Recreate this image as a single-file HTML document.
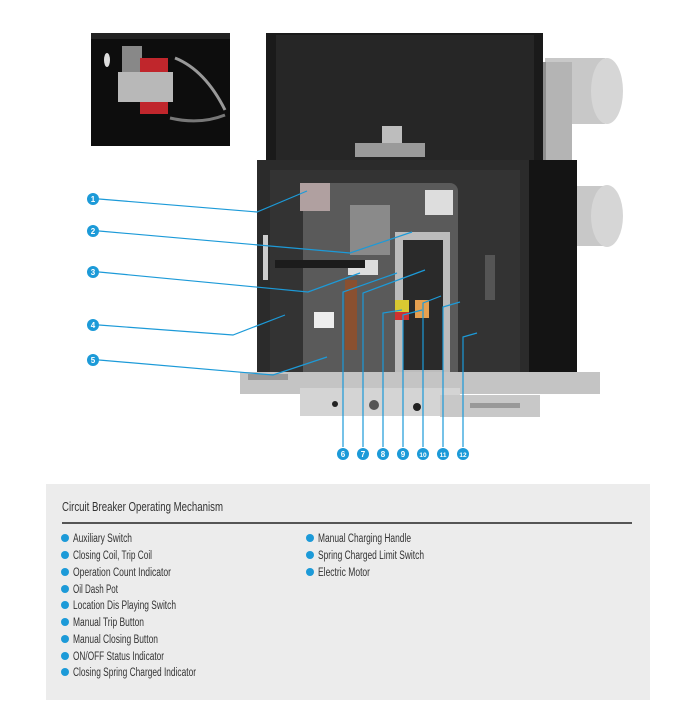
<!DOCTYPE html>
<html><head><meta charset="utf-8"><style>
body{margin:0;width:695px;height:720px;background:#fff;overflow:hidden;font-family:"Liberation Sans",sans-serif;}
svg{position:absolute;left:0;top:0}
</style></head><body>
<svg width="695" height="720" viewBox="0 0 695 720" font-family="Liberation Sans, sans-serif">
<!-- inset photo -->
<rect x="91" y="33" width="139" height="113" fill="#0d0d0d"/>
<rect x="91" y="33" width="139" height="6" fill="#222"/>
<rect x="122" y="46" width="20" height="50" fill="#888"/>
<rect x="118" y="72" width="55" height="30" fill="#b8b8b8"/>
<rect x="140" y="58" width="28" height="14" fill="#c0262c"/>
<rect x="140" y="102" width="28" height="12" fill="#c0262c"/>
<path d="M175 58 Q205 70 225 110" stroke="#999" stroke-width="3" fill="none"/>
<path d="M170 118 Q200 125 225 115" stroke="#777" stroke-width="3" fill="none"/>
<ellipse cx="107" cy="60" rx="3" ry="7" fill="#ddd"/>
<!-- cylinders -->
<rect x="545" y="58" width="60" height="66" fill="#c8c8c8"/>
<ellipse cx="607" cy="91" rx="16" ry="33" fill="#d6d6d6"/>
<rect x="545" y="186" width="60" height="60" fill="#c8c8c8"/>
<ellipse cx="607" cy="216" rx="16" ry="31" fill="#d6d6d6"/>
<rect x="540" y="62" width="32" height="285" fill="#b4b4b4"/>
<rect x="540" y="62" width="6" height="285" fill="#8e8e8e"/>
<!-- top black panel -->
<rect x="266" y="33" width="277" height="135" fill="#1a1a1a"/>
<rect x="276" y="35" width="258" height="128" fill="#262626"/>
<rect x="382" y="126" width="20" height="22" fill="#bdbdbd"/>
<rect x="355" y="143" width="70" height="14" fill="#9a9a9a"/>
<!-- right side -->
<rect x="527" y="160" width="50" height="228" fill="#141414"/>
<!-- front box -->
<rect x="257" y="160" width="272" height="228" fill="#2b2b2b"/>
<rect x="270" y="170" width="250" height="210" fill="#333"/>
<rect x="303" y="183" width="155" height="205" rx="8" fill="#5a5a5a"/>
<rect x="395" y="232" width="55" height="150" fill="#bcbcbc"/>
<rect x="403" y="240" width="40" height="130" fill="#2a2a2a"/>
<rect x="395" y="300" width="14" height="15" fill="#d8c832"/>
<rect x="395" y="312" width="14" height="8" fill="#d03030"/>
<rect x="415" y="300" width="14" height="18" fill="#e6a050"/>
<rect x="350" y="205" width="40" height="50" fill="#8a8a8a"/>
<rect x="425" y="190" width="28" height="25" fill="#ddd"/>
<rect x="348" y="260" width="30" height="15" fill="#ddd"/>
<rect x="345" y="280" width="12" height="70" fill="#8a5030"/>
<rect x="314" y="312" width="20" height="16" fill="#eee"/>
<rect x="300" y="183" width="30" height="28" fill="#b0a0a0"/>
<rect x="275" y="260" width="90" height="8" fill="#1c1c1c"/>
<rect x="263" y="235" width="5" height="45" fill="#ccc"/>
<rect x="485" y="255" width="10" height="45" fill="#555"/>
<!-- rails -->
<rect x="240" y="372" width="360" height="22" fill="#c4c4c4"/>
<rect x="300" y="388" width="160" height="28" fill="#d4d4d4"/>
<rect x="440" y="395" width="100" height="22" fill="#c8c8c8"/>
<rect x="248" y="374" width="40" height="6" fill="#999"/>
<rect x="470" y="403" width="50" height="5" fill="#999"/>
<circle cx="374" cy="405" r="5" fill="#555"/>
<circle cx="417" cy="407" r="4" fill="#222"/>
<circle cx="335" cy="404" r="3" fill="#222"/>
<!-- callouts -->
<g stroke="#1c9ad8" stroke-width="1.2" fill="none">
<polyline points="99,199 257,212 307,191"/>
<polyline points="99,231 350,253 412,232"/>
<polyline points="99,272 308,292 360,273"/>
<polyline points="99,325 233,335 285,315"/>
<polyline points="99,360 273,375 327,357"/>
<polyline points="343,447 343,292 397,273"/>
<polyline points="363,447 363,293 425,270"/>
<polyline points="383,447 383,313 402,310"/>
<polyline points="403,447 403,315 422,310"/>
<polyline points="423,447 423,303 441,296"/>
<polyline points="443,447 443,307 460,302"/>
<polyline points="463,447 463,337 477,333"/>
</g>
<g fill="#1c9ad8">
<circle cx="93" cy="199" r="6"/><circle cx="93" cy="231" r="6"/><circle cx="93" cy="272" r="6"/><circle cx="93" cy="325" r="6"/><circle cx="93" cy="360" r="6"/>
<circle cx="343" cy="454" r="6"/><circle cx="363" cy="454" r="6"/><circle cx="383" cy="454" r="6"/><circle cx="403" cy="454" r="6"/><circle cx="423" cy="454" r="6"/><circle cx="443" cy="454" r="6"/><circle cx="463" cy="454" r="6"/>
</g>
<g fill="#fff" font-size="8" font-weight="bold" text-anchor="middle">
<text x="93" y="202">1</text><text x="93" y="234">2</text><text x="93" y="275">3</text><text x="93" y="328">4</text><text x="93" y="363">5</text>
<text x="343" y="457">6</text><text x="363" y="457">7</text><text x="383" y="457">8</text><text x="403" y="457">9</text>
<text x="423" y="457" font-size="6.5">10</text><text x="443" y="457" font-size="6.5">11</text><text x="463" y="457" font-size="6.5">12</text>
</g>
<!-- legend -->
<rect x="46" y="484" width="604" height="216" fill="#ececec"/>
<text x="62" y="511" font-size="13" fill="#333" textLength="161" lengthAdjust="spacingAndGlyphs">Circuit Breaker Operating Mechanism</text>
<rect x="62" y="522" width="570" height="2" fill="#555"/>
<g fill="#1c9ad8">
<circle cx="65" cy="538" r="4"/><circle cx="65" cy="555" r="4"/><circle cx="65" cy="572" r="4"/><circle cx="65" cy="589" r="4"/><circle cx="65" cy="605" r="4"/><circle cx="65" cy="622" r="4"/><circle cx="65" cy="639" r="4"/><circle cx="65" cy="656" r="4"/><circle cx="65" cy="672" r="4"/>
<circle cx="310" cy="538" r="4"/><circle cx="310" cy="555" r="4"/><circle cx="310" cy="572" r="4"/>
</g>
<g font-size="11.5" fill="#333" lengthAdjust="spacingAndGlyphs">
<text x="73" y="542" textLength="59" lengthAdjust="spacingAndGlyphs">Auxiliary Switch</text>
<text x="73" y="559" textLength="79" lengthAdjust="spacingAndGlyphs">Closing Coil, Trip Coil</text>
<text x="73" y="576" textLength="98" lengthAdjust="spacingAndGlyphs">Operation Count Indicator</text>
<text x="73" y="593" textLength="45" lengthAdjust="spacingAndGlyphs">Oil Dash Pot</text>
<text x="73" y="609" textLength="103" lengthAdjust="spacingAndGlyphs">Location Dis Playing Switch</text>
<text x="73" y="626" textLength="71" lengthAdjust="spacingAndGlyphs">Manual Trip Button</text>
<text x="73" y="643" textLength="85" lengthAdjust="spacingAndGlyphs">Manual Closing Button</text>
<text x="73" y="660" textLength="91" lengthAdjust="spacingAndGlyphs">ON/OFF Status Indicator</text>
<text x="73" y="676" textLength="123" lengthAdjust="spacingAndGlyphs">Closing Spring Charged Indicator</text>
<text x="318" y="542" textLength="93" lengthAdjust="spacingAndGlyphs">Manual Charging Handle</text>
<text x="318" y="559" textLength="106" lengthAdjust="spacingAndGlyphs">Spring Charged Limit Switch</text>
<text x="318" y="576" textLength="52" lengthAdjust="spacingAndGlyphs">Electric Motor</text>
</g>
</svg>
</body></html>
